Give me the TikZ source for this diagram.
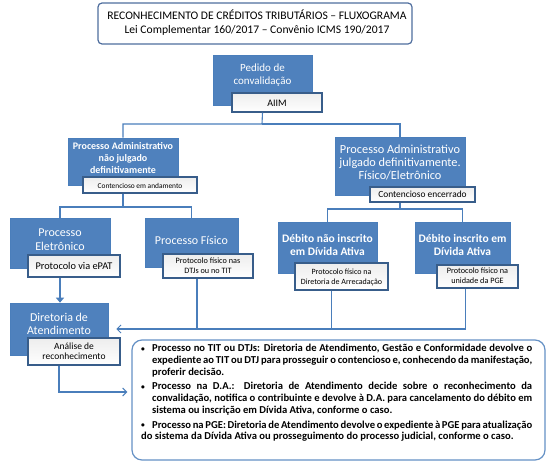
\documentclass[tikz,border=0pt]{standalone}
\usepackage{fontspec}
\setmainfont{Carlito}
\usetikzlibrary{arrows.meta}
\definecolor{mainblue}{HTML}{4F81BD}
\definecolor{mainborder}{HTML}{4A7EBB}
\definecolor{subborder}{HTML}{385D8A}
\definecolor{linecol}{HTML}{4A7EBB}
\definecolor{titleborder}{HTML}{4F6E9E}
\newcommand\boxat[6]{\node[#1, minimum width={(#5)-(#3)}, minimum height={(#6)-(#4)}] (#2) at ({((#3)+(#5))/2},{((#4)+(#6))/2}) {};}
\newcommand\blt{\makebox[11pt][l]{\raisebox{0.3pt}{\fontsize{7.5}{7.5}\selectfont\textbullet}}}
\tikzset{
  mainbox/.style={draw=mainborder, fill=mainblue, line width=0.6pt, inner sep=0pt},
  subbox/.style={draw=subborder, top color=black!7, bottom color=white, line width=1.3pt, inner sep=0pt},
  titlebox/.style={draw=titleborder, fill=white, line width=1.2pt, rounded corners=4pt, inner sep=0pt},
  listbox/.style={draw=linecol!85, fill=white, line width=1.2pt, rounded corners=10pt, inner sep=0pt},
  wtext/.style={text=white, align=center, inner sep=0pt},
  btext/.style={text=black, align=center, inner sep=0pt},
  conn/.style={draw=linecol, line width=1.1pt},
  barb/.style={-{Straight Barb[length=4pt,width=8pt,line width=1pt]}},
  thickarrow/.style={draw=linecol, line width=2.6pt, -{Triangle[length=5pt,width=8pt]}}
}
\begin{document}
\begin{tikzpicture}[x=1pt,y=-1pt]
\useasboundingbox (0,0) rectangle (556,474);
% title
\boxat{titlebox}{title}{98}{3}{412}{44}
\node[btext, font=\fontsize{11.6}{14}\selectfont] (titlet) at (257,22.5) {RECONHECIMENTO DE CRÉDITOS TRIBUTÁRIOS – FLUXOGRAMA\\Lei Complementar 160/2017 – Convênio ICMS 190/2017};
% pedido
\boxat{mainbox}{ped}{213}{55}{312}{105}
\node[wtext, font=\fontsize{11}{13.5}\selectfont] (pedt) at (262.5,75) {Pedido de\\convalidação};
\boxat{subbox}{aiim}{232}{93}{322}{112}
\node[btext, font=\fontsize{10}{12}\selectfont] (aiimt) at (277,103) {AIIM};
% PA left
\boxat{mainbox}{pal}{68}{138}{178}{185}
\node[wtext, font=\bfseries\fontsize{10}{12}\selectfont] (palt) at (123,158) {Processo Administrativo\\não julgado\\definitivamente};
\boxat{subbox}{cea}{83}{177}{197}{193}
\node[btext, font=\fontsize{7.4}{8}\selectfont] (ceat) at (140,185.5) {Contencioso em andamento};
% PA right
\boxat{mainbox}{par}{335}{137}{465}{195}
\node[wtext, font=\fontsize{12.3}{13}\selectfont] (part) at (400,162) {Processo Administrativo\\julgado definitivamente.\\Físico/Eletrônico};
\boxat{subbox}{cen}{370}{187}{475}{202}
\node[btext, font=\fontsize{9.4}{9}\selectfont] (cent) at (422.5,194.5) {Contencioso encerrado};
% row 3
\boxat{mainbox}{pel}{10}{218}{110}{268}
\node[wtext, font=\fontsize{12}{14}\selectfont] (pelt) at (60,240) {Processo\\Eletrônico};
\boxat{subbox}{epat}{28}{255}{120}{277}
\node[btext, font=\fontsize{10.3}{11}\selectfont] (epatt) at (74,266) {Protocolo via ePAT};
\boxat{mainbox}{pf}{145}{218}{238}{267}
\node[wtext, font=\fontsize{12}{14}\selectfont] (pft) at (191.5,240) {Processo Físico};
\boxat{subbox}{pfs}{163}{254}{253}{278}
\node[btext, font=\fontsize{8.2}{10}\selectfont] (pfst) at (208,266) {Protocolo físico nas\\DTJs ou no TIT};
\boxat{mainbox}{dni}{278}{222}{377}{273}
\node[wtext, font=\bfseries\fontsize{11.5}{13.5}\selectfont] (dnit) at (327.5,245) {Débito não inscrito\\em Dívida Ativa};
\boxat{subbox}{dnis}{295}{263}{388}{290}
\node[btext, font=\fontsize{8}{10}\selectfont] (dnist) at (341.5,277) {Protocolo físico na\\Diretoria de Arrecadação};
\boxat{mainbox}{di}{415}{222}{510}{273}
\node[wtext, font=\bfseries\fontsize{11.5}{13.5}\selectfont] (dit) at (462.5,245) {Débito inscrito em\\Dívida Ativa};
\boxat{subbox}{dis}{437}{265}{518}{288}
\node[btext, font=\fontsize{8.2}{10}\selectfont] (dist) at (477.5,275.5) {Protocolo físico na\\unidade da PGE};
% diretoria
\boxat{mainbox}{dir}{10}{303}{108}{355}
\node[wtext, font=\fontsize{12}{13.5}\selectfont] (dirt) at (59,324) {Diretoria de\\Atendimento};
\boxat{subbox}{an}{28}{338}{120}{365}
\node[btext, font=\fontsize{9.5}{10}\selectfont] (ant) at (74,351) {Análise de\\reconhecimento};
% list box
\boxat{listbox}{bul}{132}{340}{545}{460}
\node[btext, anchor=north west, text width=391pt, align=justify, font=\bfseries\fontsize{10.6}{11.8}\selectfont] (bult) at (141,344) {%
\setlength{\parskip}{2.8pt}\hyphenpenalty=10000\exhyphenpenalty=10000%
\hangindent=11pt\hangafter=1\blt Processo no TIT ou DTJs: Diretoria de Atendimento, Gestão e Conformidade devolve o expediente ao TIT ou DTJ para prosseguir o contencioso e, conhecendo da manifestação, proferir decisão.\par
\hangindent=11pt\hangafter=1\blt Processo na D.A.: Diretoria de Atendimento decide sobre o reconhecimento da convalidação, notifica o contribuinte e devolve à D.A. para cancelamento do débito em sistema ou inscrição em Dívida Ativa, conforme o caso.\par
\hangindent=11pt\hangafter=1\blt Processo na PGE: Diretoria de Atendimento devolve o expediente à PGE para atualização do sistema da Dívida Ativa ou prosseguimento do processo judicial, conforme o caso.};
% connectors
\draw[conn] (ped |- aiim.south) -- (262,124) -| (pal.north);
\draw[conn] (262,124) -| (par.north);
\draw[conn] (pal |- cea.south) -- (123,207) -| (pel.north);
\draw[conn] (123,207) -| (pf.north);
\draw[conn] (par |- cen.south) -- (400,209) -| (dni.north);
\draw[conn] (400,209) -| (di.north);
\draw[thickarrow] (pel |- epat.south) -- (pel |- dir.north);
\draw[conn, barb] ([xshift=-12pt]dis.south) |- ([xshift=8pt]dir.east);
\draw[conn] ([xshift=-10pt]dnis.south) -- ([xshift=-10pt]dnis.south |- dir.east);
\draw[conn] ([xshift=-11pt]pfs.south) -- ([xshift=-11pt]pfs.south |- dir.east);
\draw[conn, barb] (dir |- an.south) |- ([xshift=-4pt,yshift=8pt]bul.west);
\end{tikzpicture}
\end{document}
